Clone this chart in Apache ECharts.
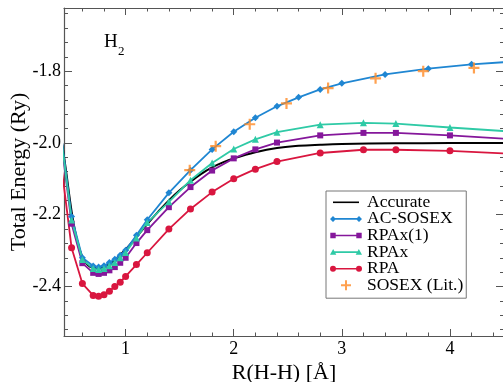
<!DOCTYPE html>
<html>
<head>
<meta charset="utf-8">
<script src="https://cdn.jsdelivr.net/npm/echarts@6/dist/echarts.min.js"></script>
<style>
  html, body { margin: 0; padding: 0; background: #fff; }
  #chart { width: 503px; height: 382px; }
</style>
</head>
<body>
<div id="chart"></div>
<script>
// H2 dissociation curves, R in Angstrom, E in Ry
const gridR = [0.4, 0.5, 0.6, 0.7, 0.75, 0.8, 0.85, 0.9, 0.95, 1.0, 1.1, 1.2, 1.4, 1.6, 1.8, 2.0, 2.2, 2.4, 2.8, 3.2, 3.5, 4.0, 5.0];
const rpaE = [-2.05, -2.292, -2.392, -2.425, -2.427, -2.423, -2.413, -2.400, -2.388, -2.372, -2.339, -2.306, -2.240, -2.184, -2.137, -2.100, -2.073, -2.052, -2.028, -2.019, -2.019, -2.022, -2.036];
const rpax1E = [-1.985, -2.225, -2.335, -2.362, -2.365, -2.362, -2.355, -2.346, -2.334, -2.320, -2.279, -2.243, -2.179, -2.123, -2.077, -2.043, -2.018, -1.999, -1.979, -1.972, -1.972, -1.979, -1.997];
const rpaxE = [-1.977, -2.215, -2.325, -2.350, -2.353, -2.350, -2.342, -2.333, -2.320, -2.305, -2.265, -2.222, -2.164, -2.104, -2.056, -2.017, -1.990, -1.970, -1.949, -1.944, -1.946, -1.957, -1.977];

const acR = [0.4, 0.5, 0.6, 0.7, 0.75, 0.8, 0.85, 0.9, 0.95, 1.0, 1.1, 1.2, 1.4, 1.6, 1.8, 2.0, 2.2, 2.4, 2.6, 2.8, 3.0, 3.4, 3.8, 4.2, 4.6];
const acSosexE = [-1.97, -2.205, -2.32, -2.343, -2.346, -2.342, -2.333, -2.324, -2.313, -2.299, -2.257, -2.214, -2.139, -2.076, -2.018, -1.969, -1.930, -1.898, -1.873, -1.851, -1.834, -1.809, -1.793, -1.781, -1.773];

const exactR = [0.4, 0.45, 0.5, 0.55, 0.6, 0.65, 0.7, 0.75, 0.8, 0.85, 0.9, 0.95, 1.0, 1.1, 1.2, 1.3, 1.4, 1.5, 1.6, 1.7, 1.8, 1.9, 2.0, 2.2, 2.4, 2.6, 2.8, 3.0, 3.5, 4.0, 5.0];
const exactE = [-1.975, -2.08, -2.19, -2.27, -2.318, -2.340, -2.348, -2.349, -2.345, -2.337, -2.326, -2.312, -2.297, -2.262, -2.226, -2.192, -2.160, -2.132, -2.108, -2.086, -2.068, -2.054, -2.043, -2.026, -2.014, -2.008, -2.005, -2.003, -2.001, -2.0005, -2.0];

const sosexR = [1.593, 1.833, 2.148, 2.488, 2.873, 3.312, 3.753, 4.222];
const sosexE = [-2.076, -2.009, -1.948, -1.890, -1.847, -1.820, -1.800, -1.791];

const xMajor = [1, 2, 3, 4];
const xMinor = [0.6, 0.8, 1.2, 1.4, 1.6, 1.8, 2.2, 2.4, 2.6, 2.8, 3.2, 3.4, 3.6, 3.8, 4.2, 4.4];
const yMajor = [-2.4, -2.2, -2.0, -1.8];
const yMinor = [-2.52, -2.48, -2.44, -2.36, -2.32, -2.28, -2.24, -2.16, -2.12, -2.08, -2.04, -1.96, -1.92, -1.88, -1.84, -1.76, -1.72, -1.68, -1.64];

const zip = (xs, ys) => xs.map((x, i) => [x, ys[i]]);

const serif = 'Liberation Serif';
const frame = '#555';
const X_MIN = 0.43, X_MAX = 4.5;
const Y_MIN = -2.538, Y_MAX = -1.624;

// legend icons: line with a marker at each end (grace style)
const anchor = 'M0,0M32,10';
const bar = 'M3,4.2H29V5.8H3Z';
const icons = {
  line: 'path://' + anchor + bar,
  diamond: 'path://' + anchor + bar + 'M0,5L3,2L6,5L3,8ZM26,5L29,2L32,5L29,8Z',
  square: 'path://' + anchor + bar + 'M0.3,2.3H5.7V7.7H0.3ZM26.3,2.3H31.7V7.7H26.3Z',
  triangle: 'path://' + anchor + bar + 'M3,1.8L6.2,7.6H-0.2ZM29,1.8L32.2,7.6H25.8Z',
  circle: 'path://' + anchor + bar + 'M0,5A3,3,0,0,1,6,5A3,3,0,0,1,0,5ZM26,5A3,3,0,0,1,32,5A3,3,0,0,1,26,5Z',
  plus: 'path://' + anchor + 'M15,0H17V4H21V6H17V10H15V6H11V4H15Z'
};
const plusSymbol = 'path://M4,0H6V4H10V6H6V10H4V6H0V4H4Z';

function xAxis(pos, ticks, len, showLine, showLabel) {
  return {
    type: 'value', position: pos, min: X_MIN, max: X_MAX,
    axisLine: { show: showLine, onZero: false, lineStyle: { color: frame, width: 1.2 } },
    axisTick: { show: true, inside: true, length: len, customValues: ticks, lineStyle: { color: frame, width: 1 } },
    axisLabel: { show: showLabel, customValues: ticks, margin: 4, color: '#000', fontFamily: serif, fontSize: 18 },
    splitLine: { show: false }
  };
}
function yAxis(pos, ticks, len, showLine, showLabel) {
  return {
    type: 'value', position: pos, min: Y_MIN, max: Y_MAX,
    axisLine: { show: showLine, onZero: false, lineStyle: { color: frame, width: 1.2 } },
    axisTick: { show: true, inside: true, length: len, customValues: ticks, lineStyle: { color: frame, width: 1 } },
    axisLabel: { show: showLabel, customValues: ticks, margin: 3, color: '#000', fontFamily: serif, fontSize: 18,
      formatter: v => v.toFixed(1) },
    splitLine: { show: false }
  };
}

const xAxes = [
  xAxis('bottom', xMajor, 7, true, true),
  xAxis('bottom', xMinor, 3.5, false, false),
  xAxis('top', xMajor, 7, true, false),
  xAxis('top', xMinor, 3.5, false, false)
];
Object.assign(xAxes[0], {
  name: 'R(H-H) [Å]', nameLocation: 'middle', nameGap: 26, nameMoveOverlap: false,
  nameTextStyle: { fontFamily: serif, fontSize: 22, color: '#000' }
});
const yAxes = [
  yAxis('left', yMajor, 8, true, true),
  yAxis('left', yMinor, 4, false, false),
  yAxis('right', yMajor, 8, true, false),
  yAxis('right', yMinor, 4, false, false)
];
Object.assign(yAxes[0], {
  name: 'Total Energy (Ry)', nameLocation: 'middle', nameGap: 34, nameRotate: 90, nameMoveOverlap: false,
  nameTextStyle: { fontFamily: serif, fontSize: 22, color: '#000' }
});

function curve(name, xs, ys, color, symbol, size) {
  return {
    name, type: 'line', data: zip(xs, ys),
    symbol, symbolSize: size, showSymbol: symbol !== 'none',
    lineStyle: { color, width: 1.8 },
    itemStyle: { color, borderWidth: 0 },
    emphasis: { disabled: true },
    clip: true, z: 2
  };
}

const chart = echarts.init(document.getElementById('chart'), null, { renderer: 'canvas' });
chart.setOption({
  animation: false,
  backgroundColor: '#fff',
  grid: { left: 64, top: 8, right: -1, bottom: 46, containLabel: false, outerBoundsMode: 'none' },
  xAxis: xAxes,
  yAxis: yAxes,
  legend: {
    left: 326, top: 191, orient: 'vertical',
    itemWidth: 32, itemHeight: 10, itemGap: -1.4,
    padding: [2.3, 3, 3.9, 4],
    backgroundColor: '#fff', borderColor: '#777', borderWidth: 1,
    selectedMode: false,
    itemStyle: { borderWidth: 0 },
    textStyle: { fontFamily: serif, fontSize: 17.5, color: '#000', lineHeight: 16.8 },
    data: [
      { name: 'Accurate', icon: icons.line },
      { name: 'AC-SOSEX', icon: icons.diamond },
      { name: 'RPAx(1)', icon: icons.square },
      { name: 'RPAx', icon: icons.triangle },
      { name: 'RPA', icon: icons.circle },
      { name: 'SOSEX (Lit.)', icon: icons.plus }
    ]
  },
  graphic: [
    { type: 'text', left: 104, top: 33, style: { text: 'H', font: '19px "Liberation Serif"', fill: '#000' } },
    { type: 'text', left: 118, top: 45, style: { text: '2', font: '13px "Liberation Serif"', fill: '#000' } }
  ],
  series: [
    Object.assign(curve('Accurate', exactR, exactE, '#000', 'none', 0), { smooth: 0.4, lineStyle: { color: '#000', width: 2 } }),
    curve('AC-SOSEX', acR, acSosexE, '#1f86d2', 'diamond', 7),
    curve('RPAx(1)', gridR, rpax1E, '#85179b', 'rect', 6),
    curve('RPAx', gridR, rpaxE, '#2fcaa6', 'triangle', 7),
    curve('RPA', gridR, rpaE, '#d9163f', 'circle', 7),
    {
      name: 'SOSEX (Lit.)', type: 'scatter', data: zip(sosexR, sosexE),
      symbol: plusSymbol, symbolSize: 11,
      itemStyle: { color: '#ff8a24', borderWidth: 0 },
      emphasis: { disabled: true }, z: 3
    }
  ]
});
</script>
</body>
</html>
